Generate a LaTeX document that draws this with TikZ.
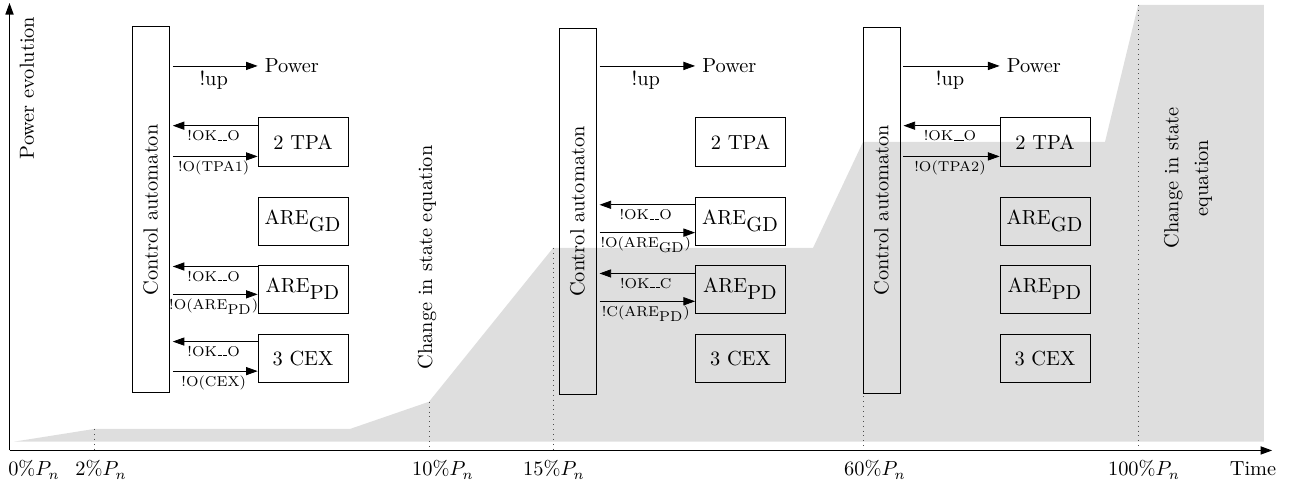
\documentclass[tikz,border=0pt]{standalone}
\usepackage{amsmath,amssymb}
\usepackage{tikz}
\usetikzlibrary{arrows.meta, positioning, calc}
\definecolor{areagray}{gray}{0.87}
\newcommand{\sigbar}{\leavevmode\kern.06em\vbox{\hrule width.3em}}

\begin{document}
\begin{tikzpicture}[
    ctrl/.style={draw, rotate=90, minimum width=6.31cm, minimum height=0.64cm},
    comp/.style={draw, minimum width=1.55cm, minimum height=0.83cm, inner sep=1pt},
    sig/.style={-{Triangle[length=5.7pt, width=4pt]}},
    ok/.style={sig, shorten >=1.5pt},
    ord/.style={sig, shorten <=1.5pt},
    lbl/.style={midway, below, font=\scriptsize, inner sep=2pt},
    tickline/.style={dotted, black!70},
    pct/.style={anchor=base}
]
\useasboundingbox (-0.164,-0.612) rectangle (22.233,7.767);

\coordinate (O) at (0,0);
\coordinate (p2) at (1.462,0.371);
\coordinate (p10) at (7.233,0.84);
\coordinate (p15) at (9.371,3.491);
\coordinate (p60) at (14.716,5.319);
\coordinate (p100) at (19.46,7.681);

\fill[areagray] (0.078,0.152) -- (p2) -- (5.871,0.371) -- (p10) -- (p15) -- (13.853,3.491)
    -- (p60) -- (18.888,5.319) -- (p100) -- (21.629,7.681) -- (21.629,0.152) -- cycle;
\foreach \p in {p2,p10,p15,p60,p100}
    \draw[tickline] (\p) -- (\p |- O);
\draw[sig, semithick] (O) -- (0,7.716);
\draw[sig, semithick] (O) -- (21.77,0);

\node[pct] (l0) at (0.422,-0.44) {$0\%P_n$};
\node[pct] (l2) at (1.578,-0.44) {$2\%P_n$};
\node[pct] (l10) at (7.474,-0.44) {$10\%P_n$};
\node[pct] (l15) at (9.388,-0.44) {$15\%P_n$};
\node[pct] (l60) at (14.922,-0.44) {$60\%P_n$};
\node[pct] (l100) at (19.56,-0.44) {$100\%P_n$};
\node[pct] (time) at (21.44,-0.44) {Time};

\node[rotate=90] (pe) at (0.302,6.25) {Power evolution};
\node[rotate=90] (cs1) at (7.198,3.328) {Change in state equation};
\node[rotate=90, align=center] (cs2) at (20.32,4.698) {Change in state\\[2.7pt]equation};

\node[ctrl] (c1) at (2.435,4.15) {Control automaton};
\node[comp] (tpa1) at (5.06,5.32) {2 TPA};
\node[comp, below=5.2mm of tpa1] (gd1) {ARE$_{\mbox{GD}}$};
\node[comp, below=3.3mm of gd1] (pd1) {ARE$_{\mbox{PD}}$};
\node[comp, below=3.5mm of pd1] (cex1) {3 CEX};
\node[anchor=west] (pow1) at (tpa1.west |- 0,6.63) {Power};
\draw[ord] (c1.south |- pow1.west) -- (pow1.west) node[midway, below, inner sep=2pt] {!up};
\draw[ok] ([yshift=2.8mm]tpa1.west) -- ([yshift=2.8mm]tpa1.west -| c1.south) node[lbl] {!OK\sigbar\sigbar O};
\draw[ord] ([yshift=-2.5mm]tpa1.west -| c1.south) -- ([yshift=-2.5mm]tpa1.west) node[lbl] {!O(TPA1)};
\draw[ok] ([yshift=3.9mm]pd1.west) -- ([yshift=3.9mm]pd1.west -| c1.south) node[lbl] {!OK\sigbar\sigbar O};
\draw[ord] ([yshift=-0.9mm]pd1.west -| c1.south) -- ([yshift=-0.9mm]pd1.west) node[lbl] {!O(ARE$_{\mbox{PD}}$)};
\draw[ok] ([yshift=2.9mm]cex1.west) -- ([yshift=2.9mm]cex1.west -| c1.south) node[lbl] {!OK\sigbar\sigbar O};
\draw[ord] ([yshift=-2.2mm]cex1.west -| c1.south) -- ([yshift=-2.2mm]cex1.west) node[lbl] {!O(CEX)};

\node[ctrl] (c2) at (9.793,4.12) {Control automaton};
\node[comp] (tpa2) at (12.603,5.32) {2 TPA};
\node[comp, below=5.2mm of tpa2] (gd2) {ARE$_{\mbox{GD}}$};
\node[comp, below=3.3mm of gd2] (pd2) {ARE$_{\mbox{PD}}$};
\node[comp, below=3.5mm of pd2] (cex2) {3 CEX};
\node[anchor=west] (pow2) at (tpa2.west |- 0,6.63) {Power};
\draw[ord] (c2.south |- pow2.west) -- (pow2.west) node[midway, below, inner sep=2pt] {!up};
\draw[ok] ([yshift=2.8mm]gd2.west) -- ([yshift=2.8mm]gd2.west -| c2.south) node[lbl] {!OK\sigbar\sigbar O};
\draw[ord] ([yshift=-2mm]gd2.west -| c2.south) -- ([yshift=-2mm]gd2.west) node[lbl] {!O(ARE$_{\mbox{GD}}$)};
\draw[ok] ([yshift=2.7mm]pd2.west) -- ([yshift=2.7mm]pd2.west -| c2.south) node[lbl] {!OK\sigbar\sigbar C};
\draw[ord] ([yshift=-2.1mm]pd2.west -| c2.south) -- ([yshift=-2.1mm]pd2.west) node[lbl] {!C(ARE$_{\mbox{PD}}$)};

\node[ctrl] (c3) at (15.034,4.146) {Control automaton};
\node[comp] (tpa3) at (17.853,5.32) {2 TPA};
\node[comp, below=5.2mm of tpa3] (gd3) {ARE$_{\mbox{GD}}$};
\node[comp, below=3.3mm of gd3] (pd3) {ARE$_{\mbox{PD}}$};
\node[comp, below=3.5mm of pd3] (cex3) {3 CEX};
\node[anchor=west] (pow3) at (tpa3.west |- 0,6.63) {Power};
\draw[ord] (c3.south |- pow3.west) -- (pow3.west) node[midway, below, inner sep=2pt] {!up};
\draw[ok] ([yshift=2.8mm]tpa3.west) -- ([yshift=2.8mm]tpa3.west -| c3.south) node[lbl] {!OK\sigbar\sigbar O};
\draw[ord] ([yshift=-2.5mm]tpa3.west -| c3.south) -- ([yshift=-2.5mm]tpa3.west) node[lbl] {!O(TPA2)};
\end{tikzpicture}
\end{document}
